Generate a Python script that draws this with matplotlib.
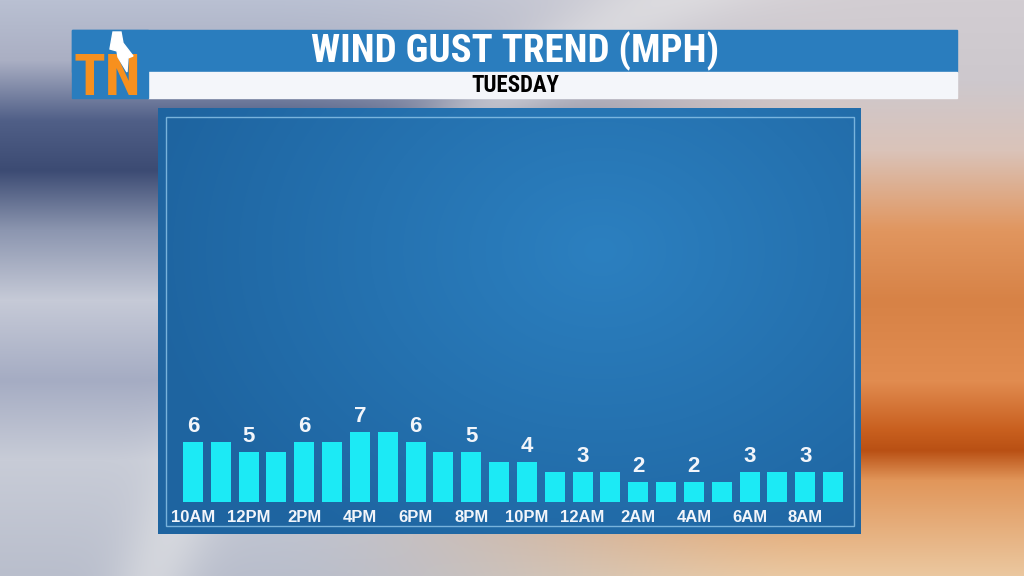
import matplotlib
matplotlib.use("Agg")
import matplotlib.pyplot as plt
import numpy as np
from matplotlib.patches import Rectangle, Polygon

hours = ['10AM', '11AM', '12PM', '1PM', '2PM', '3PM', '4PM', '5PM', '6PM', '7PM', '8PM', '9PM',
         '10PM', '11PM', '12AM', '1AM', '2AM', '3AM', '4AM', '5AM', '6AM', '7AM', '8AM', '9AM']
gusts = [6, 6, 5, 5, 6, 6, 7, 7, 6, 5, 5, 4, 4, 3, 3, 3, 2, 2, 2, 2, 3, 3, 3, 3]
title = 'WIND GUST TREND (MPH)'
subtitle = 'TUESDAY'

W, H = 1024, 576
narrow = ['Roboto Condensed', 'Open Sans Condensed', 'DejaVu Sans']
bold = ['Liberation Sans', 'DejaVu Sans']

# ---- background sky (decoration only) ----
yy, xx = np.mgrid[0:H, 0:W].astype(float)
ys = [0, 60, 120, 170, 230, 300, 380, 460, 576]
left_c = np.array([(185, 192, 210), (170, 175, 195), (80, 95, 135), (60, 75, 115), (140, 150, 176),
                   (198, 202, 215), (165, 172, 195), (200, 204, 215), (185, 190, 204)])
ys_r = [0, 80, 150, 230, 300, 380, 430, 450, 480, 576]
right_c = np.array([(210, 205, 210), (205, 200, 205), (218, 195, 185), (225, 150, 95), (215, 130, 70),
                    (225, 140, 80), (200, 95, 30), (185, 80, 20), (225, 150, 90), (235, 200, 160)])
col = np.arange(H)
L = np.stack([np.interp(col, ys, left_c[:, k]) for k in range(3)], axis=1)
R = np.stack([np.interp(col, ys_r, right_c[:, k]) for k in range(3)], axis=1)
t = np.clip((xx - 250) / 600, 0, 1)
t = t * t * (3 - 2 * t)
bg = L[:, None, :] * (1 - t[..., None]) + R[:, None, :] * t[..., None]
# light swoosh across the top
d = np.abs(np.hypot(xx - 1100, yy - 900) - 1000)
bg = bg + (235 - bg) * np.exp(-(d / 40) ** 2)[..., None] * 0.5
bg = np.clip(bg / 255, 0, 1)

fig = plt.figure(figsize=(W / 100, H / 100), dpi=100)
base = fig.add_axes([0, 0, 1, 1])
base.set_xlim(0, W)
base.set_ylim(H, 0)
base.axis('off')
base.imshow(bg, extent=(0, W, H, 0), aspect='auto', zorder=0)

# ---- panel ----
px0, py0, px1, py1 = 158, 108, 861, 534
pyy, pxx = np.mgrid[py0:py1, px0:px1].astype(float)
r = np.hypot((pxx - 600) / 460, (pyy - 250) / 360)
pr = np.clip(r, 0, 1)[..., None]
c_in = np.array([44, 128, 192]) / 255
c_out = np.array([30, 100, 160]) / 255
panel = c_in * (1 - pr) + c_out * pr
base.imshow(panel, extent=(px0, px1, py1, py0), aspect='auto', zorder=1)
base.add_patch(Rectangle((166, 117), 854 - 166, 526 - 117, fill=False,
                         edgecolor='#8fc6ea', lw=1.0, alpha=0.8, zorder=2))

# ---- header ----
base.add_patch(Rectangle((72, 30), 957 - 72, 42, color='#2a7dbe', zorder=3))
base.add_patch(Rectangle((148, 72), 957 - 148, 26, color='#f4f6fa', zorder=3))
base.add_patch(Rectangle((72, 30), 76, 68, color='#2a7dbe', zorder=3))
base.text(515, 51, title, color='white', fontsize=28, fontweight='bold', family=narrow,
          fontstretch='condensed', ha='center', va='center', zorder=4)
base.text(515, 85, subtitle, color='black', fontsize=16.5, fontweight='bold', family=narrow,
          fontstretch='condensed', ha='center', va='center', zorder=4)
# logo
base.text(107, 95, 'TN', color='#f7901e', fontsize=42, fontweight='bold', family=narrow,
          fontstretch='condensed', ha='center', va='baseline', zorder=4)
bolt = [(113, 32), (121, 32), (123, 43), (133, 56), (128, 58), (127, 72), (118, 57), (117, 51), (110, 49)]
base.add_patch(Polygon(bolt, closed=True, color='white', zorder=5))

# ---- bars ----
ax = fig.add_axes([179 / W, (H - 502) / H, 668 / W, 380 / H])
ax.patch.set_alpha(0)
x = np.arange(len(gusts))
ax.bar(x, gusts, width=0.72, color='#1ceaf5', zorder=3)
ax.set_xlim(-0.5, len(gusts) - 0.5)
ax.set_ylim(0, 38)
for i in range(0, len(gusts), 2):
    ax.annotate(str(gusts[i]), (x[i], gusts[i]), xytext=(0, 7), textcoords='offset points',
                ha='center', va='baseline', color='#f2f5fa', fontsize=16,
                fontweight='bold', family=bold)
ax.set_xticks(x[::2])
ax.set_xticklabels(hours[::2], color='#f2f5fa', fontsize=12, fontweight='bold', family=bold)
ax.tick_params(axis='x', length=0, pad=6)
ax.set_yticks([])
for s in ax.spines.values():
    s.set_visible(False)

fig.savefig('out.png', dpi=100)
